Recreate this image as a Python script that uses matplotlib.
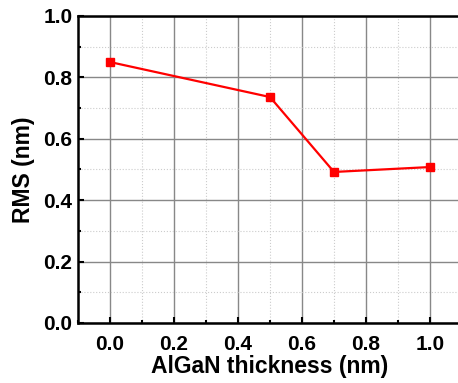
import numpy as np
import matplotlib
matplotlib.use("Agg")
import matplotlib.pyplot as plt
from matplotlib.ticker import MultipleLocator

# AlGaN interlayer thickness vs surface roughness
thickness = [0.0, 0.5, 0.7, 1.0]
rms = [0.85, 0.736, 0.492, 0.508]

plt.rcParams['font.family'] = ['Liberation Sans', 'DejaVu Sans']
plt.rcParams['font.weight'] = 'bold'

fig = plt.figure(figsize=(4.58, 3.83), dpi=100)
ax = fig.add_axes([78 / 458, 60 / 383, 384 / 458, 307 / 383])

ax.plot(thickness, rms, '-s', color='#ff0000', lw=1.6, ms=5.5,
        zorder=3, clip_on=False)

ax.set_xlim(-0.1, 1.1)
ax.set_ylim(0.0, 1.0)
ax.xaxis.set_major_locator(MultipleLocator(0.2))
ax.xaxis.set_minor_locator(MultipleLocator(0.1))
ax.yaxis.set_major_locator(MultipleLocator(0.2))
ax.yaxis.set_minor_locator(MultipleLocator(0.1))

ax.grid(which='major', color='#888888', lw=1.0, ls='-')
ax.grid(which='minor', color='#cccccc', lw=0.8, ls=':')
ax.set_axisbelow(True)

ax.tick_params(which='both', direction='in', width=1.5, labelsize=15)
ax.tick_params(axis='x', pad=8.5)
ax.tick_params(axis='y', pad=4)
ax.tick_params(which='major', length=4)
ax.tick_params(which='minor', length=2.5)
ax.tick_params(top=False, right=False)
for lab in ax.get_xticklabels() + ax.get_yticklabels():
    lab.set_fontweight('bold')

for s in ['left', 'bottom', 'top']:
    ax.spines[s].set_linewidth(1.8)
ax.spines['right'].set_visible(False)

ax.set_xlabel('AlGaN thickness (nm)', fontsize=16.5, fontweight='bold', labelpad=1)
ax.set_ylabel('RMS (nm)', fontsize=16.5, fontweight='bold', labelpad=6)

fig.savefig('out.png', dpi=100)
